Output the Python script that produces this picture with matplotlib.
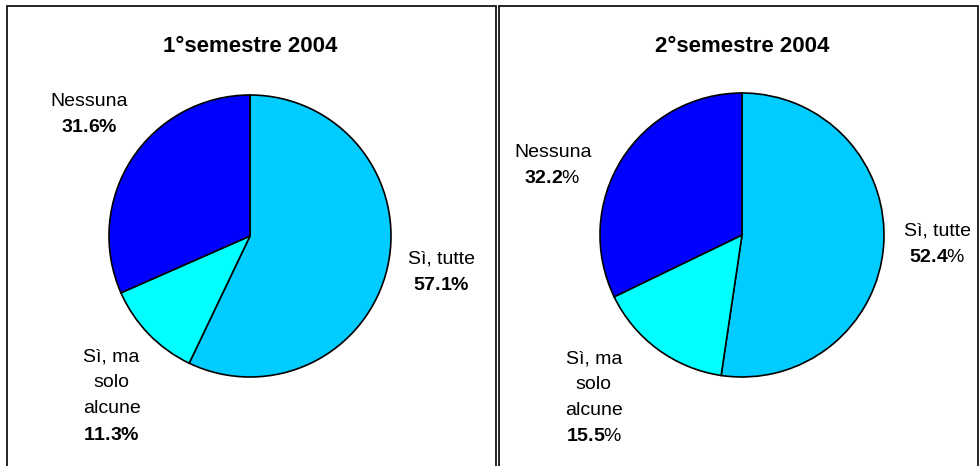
import numpy as np
import matplotlib.pyplot as plt
from matplotlib.patches import Rectangle

plt.rcParams['font.family'] = ['Liberation Sans', 'DejaVu Sans']
plt.rcParams['mathtext.fontset'] = 'custom'
plt.rcParams['mathtext.rm'] = 'Liberation Sans'
plt.rcParams['mathtext.bf'] = 'Liberation Sans:bold'

# data
categories = ['Sì, tutte', 'Sì, ma\nsolo\nalcune', 'Nessuna']
titles = ['1°semestre 2004', '2°semestre 2004']
sem1 = [57.1, 11.3, 31.6]
sem2 = [52.4, 15.5, 32.2]
colors = ['#00CCFF', '#00FFFF', '#0000FF']

W, H = 980, 466
fig = plt.figure(figsize=(W / 100, H / 100), dpi=100)

# panel frames (pixels: left, right)
frames = [(7, 496), (499, 978)]
for x0, x1 in frames:
    fig.patches.append(Rectangle((x0 / W, -0.01), (x1 - x0) / W, (H - 6) / H + 0.01,
                                 transform=fig.transFigure, fill=False,
                                 edgecolor='black', linewidth=1.2))

# pie centers / radius in pixels, label placement (angle offset deg, distance)
centers = [(250, 236, 141), (742, 235, 142)]
label_pos = [[(2, 1.38), (5, 1.5), (-4, 1.43)],
             [(1.5, 1.38), (-6, 1.55), (12, 1.42)]]

for i, vals in enumerate([sem1, sem2]):
    cx, cy, r = centers[i]
    ax = fig.add_axes([(cx - r) / W, (H - cy - r) / H, 2 * r / W, 2 * r / H])
    wedges, _ = ax.pie(vals, colors=colors, startangle=90, counterclock=False,
                       radius=1, wedgeprops=dict(edgecolor='black', linewidth=1.2))
    ax.set_xlim(-1, 1)
    ax.set_ylim(-1, 1)
    ax.set_aspect('equal')
    ax.axis('off')
    for j, w in enumerate(wedges):
        da, dist = label_pos[i][j]
        ang = np.deg2rad((w.theta1 + w.theta2) / 2 + da)
        x, y = dist * np.cos(ang), dist * np.sin(ang)
        num = f'{vals[j]:.1f}'
        if i == 0:
            pct = r'$\mathbf{' + num + r'\%}$'
        else:
            pct = r'$\mathbf{' + num + '}$%'
        ax.text(x, y, categories[j] + '\n' + pct, ha='center', va='center',
                fontsize=14, linespacing=1.7, clip_on=False)
    fig.text(cx / W, 1 - 46 / H, titles[i], ha='center', va='center',
             fontsize=16, fontweight='bold')

fig.savefig('out.png', dpi=100)
